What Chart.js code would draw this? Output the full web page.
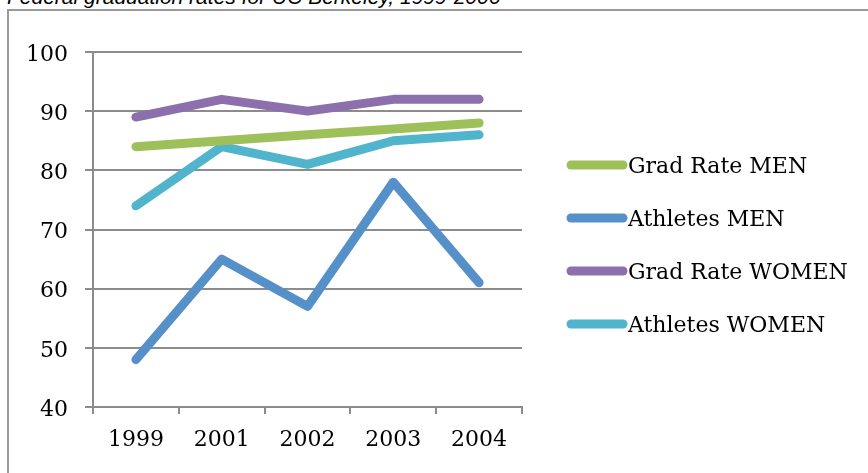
<!DOCTYPE html>
<html>
<head>
<meta charset="utf-8">
<script src="https://cdn.jsdelivr.net/npm/chart.js@4"></script>
<style>
  html, body { margin: 0; padding: 0; background: #fff; }
  body { width: 868px; height: 473px; position: relative; overflow: hidden; }
  #title {
    position: absolute; left: 7px; top: -14px;
    font: italic 21px/21px "Liberation Sans", Arial, sans-serif;
    color: #000; white-space: nowrap;
  }
  #frame {
    position: absolute; left: 7px; top: 9px; width: 900px; height: 500px;
    border: 2px solid #9a9a9a;
  }
  #chartWrap { position: absolute; left: 0; top: 0; width: 868px; height: 473px; }
</style>
</head>
<body>
<div id="title">Federal graduation rates for UC Berkeley, 1999-2006</div>
<div id="frame"></div>
<div id="chartWrap"><canvas id="gradChart" width="868" height="473"></canvas></div>
<script>
const years = ["1999", "2001", "2002", "2003", "2004"];
const seriesNames = ["Grad Rate MEN", "Athletes MEN", "Grad Rate WOMEN", "Athletes WOMEN"];
const gradRateMen = [84, 85, 86, 87, 88];
const athletesMen = [48, 65, 57, 78, 61];
const gradRateWomen = [89, 92, 90, 92, 92];
const athletesWomen = [74, 84, 81, 85, 86];
const seriesColors = ["#9DC05B", "#5590C8", "#8C70AE", "#50B4CC"];
const yTicks = [40, 50, 60, 70, 80, 90, 100];

const gridGray = "#8c8c8c";

// legend drawn by hand to the right of the plot
const sideLegend = {
  id: "sideLegend",
  afterDraw(chart) {
    const ctx = chart.ctx;
    ctx.save();
    ctx.font = '22px "DejaVu Serif"';
    ctx.textBaseline = "middle";
    ctx.fillStyle = "#000";
    chart.data.datasets.forEach((ds, i) => {
      const y = 165 + i * 53;
      ctx.strokeStyle = ds.borderColor;
      ctx.lineWidth = 9;
      ctx.lineCap = "round";
      ctx.beginPath();
      ctx.moveTo(571, y);
      ctx.lineTo(623, y);
      ctx.stroke();
      ctx.fillText(ds.label, 628, y + 2);
    });
    ctx.restore();
  },
};

function makeDataset(name, values, color) {
  return {
    label: name,
    data: values,
    borderColor: color,
    backgroundColor: color,
    borderWidth: 9,
    borderCapStyle: "round",
    borderJoinStyle: "round",
    pointRadius: 0,
    pointHoverRadius: 0,
    tension: 0,
    fill: false,
  };
}

const ctx = document.getElementById("gradChart").getContext("2d");

new Chart(ctx, {
  type: "line",
  data: {
    labels: years,
    datasets: [
      makeDataset(seriesNames[0], gradRateMen, seriesColors[0]),
      makeDataset(seriesNames[1], athletesMen, seriesColors[1]),
      makeDataset(seriesNames[2], gradRateWomen, seriesColors[2]),
      makeDataset(seriesNames[3], athletesWomen, seriesColors[3]),
    ],
  },
  options: {
    responsive: false,
    animation: false,
    events: [],
    layout: { padding: { left: 0, top: 52, right: 346, bottom: 0 } },
    plugins: {
      legend: { display: false },
      tooltip: { enabled: false },
      title: { display: false },
    },
    scales: {
      x: {
        offset: true,
        afterFit: (s) => { s.height = 66; },
        grid: {
          offset: true,
          drawOnChartArea: false,
          drawTicks: true,
          tickLength: 7,
          color: gridGray,
          lineWidth: 2,
        },
        border: { display: true, color: gridGray, width: 2 },
        ticks: {
          color: "#000",
          padding: 13,
          maxRotation: 0,
          font: { family: "DejaVu Serif", size: 22 },
        },
      },
      y: {
        min: 40,
        max: 100,
        afterFit: (s) => { s.width = 93; },
        afterBuildTicks: (s) => { s.ticks = yTicks.map((v) => ({ value: v })); },
        grid: {
          color: gridGray,
          lineWidth: 2,
          tickLength: 8,
        },
        border: { display: true, color: gridGray, width: 2 },
        ticks: {
          color: "#000",
          padding: 17,
          labelOffset: 3,
          font: { family: "DejaVu Serif", size: 22 },
        },
      },
    },
  },
  plugins: [sideLegend],
});
</script>
</body>
</html>
